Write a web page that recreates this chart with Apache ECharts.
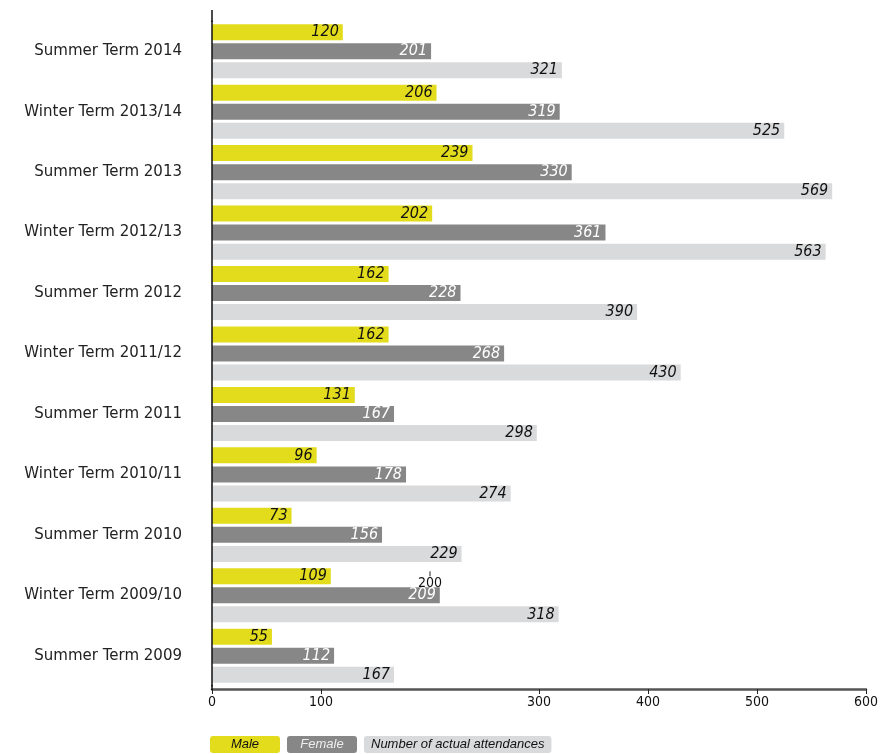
<!DOCTYPE html>
<html><head><meta charset="utf-8">
<script src="https://cdn.jsdelivr.net/npm/echarts@6/dist/echarts.min.js"></script>
<style>html,body{margin:0;padding:0;background:#fff}#c{width:881px;height:754px}</style>
</head><body><div id="c"></div>
<script>
const categories = ['Summer Term 2014','Winter Term 2013/14','Summer Term 2013','Winter Term 2012/13','Summer Term 2012','Winter Term 2011/12','Summer Term 2011','Winter Term 2010/11','Summer Term 2010','Winter Term 2009/10','Summer Term 2009'];
const male =   [120, 206, 239, 202, 162, 162, 131,  96,  73, 109,  55];
const female = [201, 319, 330, 361, 228, 268, 167, 178, 156, 209, 112];
const total =  [321, 525, 569, 563, 390, 430, 298, 274, 229, 318, 167];
const seriesNames = ['Male', 'Female', 'Number of actual attendances'];
const xTickValues = [0, 100, 300, 400, 500, 600];
const strayTickValue = 200;
const strayTickCategory = 'Winter Term 2009/10';

const COLORS = ['#e2dc1c', '#878787', '#d9dadb'];
const LABEL_COLORS = ['#111', '#fff', '#111'];
const FONT = "'DejaVu Sans Condensed', 'DejaVu Sans', sans-serif";
const LEGEND_FONT = "'Liberation Sans', Arial, sans-serif";

const chart = echarts.init(document.getElementById('c'));
function mkSeries(name, data, i) {
  return {
    name, type: 'bar', data, barWidth: 16, barGap: '19%',
    itemStyle: { color: COLORS[i] },
    label: { show: true, position: 'insideRight', distance: 4, color: LABEL_COLORS[i],
      fontStyle: 'italic', fontSize: 16, fontFamily: FONT },
    emphasis: { disabled: true }
  };
}
const richKeys = ['m', 'f', 't'];
const richBase = { height: 17, lineHeight: 17, borderRadius: 3, fontStyle: 'italic', fontSize: 13, fontFamily: LEGEND_FONT };
chart.setOption({
  animation: false,
  grid: { left: 212, right: 15, top: 21, bottom: 68, containLabel: false },
  xAxis: {
    type: 'value', min: 0, max: 600, offset: 3,
    axisLine: { show: true, lineStyle: { color: '#555', width: 2.5 } },
    axisTick: { show: true, length: 5, lineStyle: { color: '#222', width: 1 }, customValues: xTickValues },
    axisLabel: { customValues: xTickValues, color: '#111', fontSize: 14, fontFamily: FONT, margin: 6 },
    splitLine: { show: false }
  },
  yAxis: {
    type: 'category', data: categories, inverse: true, z: 5,
    axisLine: { show: true, lineStyle: { color: '#111', width: 1.5 } },
    axisTick: { show: false },
    axisLabel: { color: '#222', fontSize: 15, fontFamily: "'DejaVu Sans', sans-serif", margin: 30 }
  },
  legend: {
    left: 200, top: 731, itemWidth: 0, itemHeight: 0, itemGap: 2, icon: 'rect',
    selectedMode: false,
    data: seriesNames,
    formatter: n => '{' + richKeys[seriesNames.indexOf(n)] + '|' + n + '}',
    textStyle: {
      rich: {
        m: Object.assign({ backgroundColor: COLORS[0], color: '#111', width: 70, align: 'center' }, richBase),
        f: Object.assign({ backgroundColor: COLORS[1], color: '#eee', width: 70, align: 'center' }, richBase),
        t: Object.assign({ backgroundColor: COLORS[2], color: '#111', padding: [0, 7] }, richBase)
      }
    }
  },
  series: [mkSeries(seriesNames[0], male, 0), mkSeries(seriesNames[1], female, 1), mkSeries(seriesNames[2], total, 2)]
});

const p = chart.convertToPixel({ gridIndex: 0 }, [strayTickValue, strayTickCategory]);
const y0 = chart.convertToPixel({ gridIndex: 0 }, [0, categories[0]]);
chart.setOption({
  graphic: [
    { type: 'line', z: 10, shape: { x1: y0[0], y1: 10, x2: y0[0], y2: 22 }, style: { stroke: '#111', lineWidth: 1.5 } },
    { type: 'line', z: 10, shape: { x1: y0[0], y1: 685, x2: y0[0], y2: 690 }, style: { stroke: '#111', lineWidth: 1.5 } },
    { type: 'line', z: 10, shape: { x1: p[0], y1: p[1] - 24, x2: p[0], y2: p[1] - 19 }, style: { stroke: '#222', lineWidth: 1 } },
    { type: 'text', z: 10, x: p[0], y: p[1] - 12, style: { text: String(strayTickValue), fill: '#111', fontSize: 14, fontFamily: FONT, align: 'center', verticalAlign: 'middle' } }
  ]
});
</script></body></html>
